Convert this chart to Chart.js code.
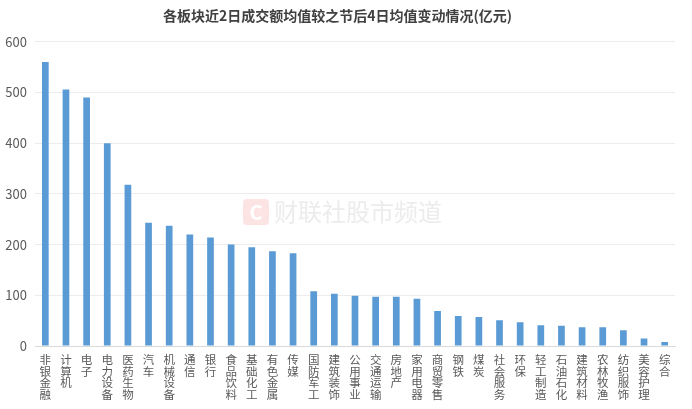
<!DOCTYPE html>
<html>
<head>
<meta charset="utf-8">
<script src="https://cdn.jsdelivr.net/npm/chart.js@4"></script>
<style>
  html, body { margin: 0; padding: 0; background: #fff; }
  #wrap { width: 692px; height: 409px; }
</style>
</head>
<body>
<div id="wrap"><canvas id="board-chart"></canvas></div>
<script>
const chartTitle = '各板块近2日成交额均值较之节后4日均值变动情况(亿元)';
const sectors = ['非银金融', '计算机', '电子', '电力设备', '医药生物', '汽车', '机械设备', '通信', '银行', '食品饮料',
    '基础化工', '有色金属', '传媒', '国防军工', '建筑装饰', '公用事业', '交通运输', '房地产', '家用电器', '商贸零售',
    '钢铁', '煤炭', '社会服务', '环保', '轻工制造', '石油石化', '建筑材料', '农林牧渔', '纺织服饰', '美容护理', '综合'];
const changeValues = [560, 506, 490, 400, 318, 243, 237, 220, 214, 200,
    195, 187, 183, 108, 103, 99, 97, 97, 93, 69,
    59, 57, 51, 47, 41, 40, 37, 37, 31, 15, 8];
const yTicks = [0, 100, 200, 300, 400, 500, 600];

const fontFamily = '"Noto Sans CJK SC", "Noto Sans", sans-serif';

// faint watermark behind the bars
const watermark = {
    id: 'watermark',
    beforeDatasetsDraw(chart) {
        const ctx = chart.ctx;
        ctx.save();
        ctx.fillStyle = '#fce4e4';
        ctx.beginPath();
        ctx.roundRect(243, 199, 26, 26, 4);
        ctx.fill();
        ctx.fillStyle = '#ffffff';
        ctx.font = 'bold 20px ' + fontFamily;
        ctx.textAlign = 'center';
        ctx.textBaseline = 'middle';
        ctx.fillText('C', 256, 212);
        ctx.fillStyle = '#ececec';
        ctx.font = '24px ' + fontFamily;
        ctx.textAlign = 'left';
        ctx.fillText('财联社股市频道', 274, 212);
        ctx.restore();
    }
};

new Chart(document.getElementById('board-chart'), {
    type: 'bar',
    data: {
        labels: sectors.map(s => s.split('')),
        datasets: [{
            label: '变动',
            data: changeValues,
            backgroundColor: '#5b9bd5',
            borderWidth: 0,
            barPercentage: 0.65,
            categoryPercentage: 0.5
        }]
    },
    options: {
        responsive: true,
        maintainAspectRatio: false,
        animation: false,
        layout: { padding: { top: 0, right: 17, bottom: 0, left: 0 } },
        plugins: {
            legend: { display: false },
            tooltip: { enabled: false },
            title: {
                display: true,
                text: chartTitle,
                color: '#404040',
                font: { family: fontFamily, size: 14, weight: 'bold' },
                padding: { top: 7, bottom: 18 }
            }
        },
        scales: {
            x: {
                afterFit(scale) {
                    scale.height = 63;
                },
                grid: { display: false, drawTicks: false },
                border: { display: true, color: '#d9d9d9', width: 1 },
                ticks: {
                    color: '#595959',
                    font: { family: fontFamily, size: 11.5, lineHeight: 1.0 },
                    maxRotation: 0,
                    minRotation: 0,
                    autoSkip: false,
                    padding: 8
                }
            },
            y: {
                min: 0,
                max: 600,
                afterBuildTicks(scale) {
                    scale.ticks = yTicks.map(v => ({ value: v }));
                },
                afterFit(scale) {
                    scale.width = 35;
                },
                grid: { color: '#ececec', drawTicks: false },
                border: { display: false },
                ticks: {
                    color: '#595959',
                    font: { family: fontFamily, size: 13 },
                    padding: 8
                }
            }
        }
    },
    plugins: [watermark]
});
</script>
</body>
</html>
